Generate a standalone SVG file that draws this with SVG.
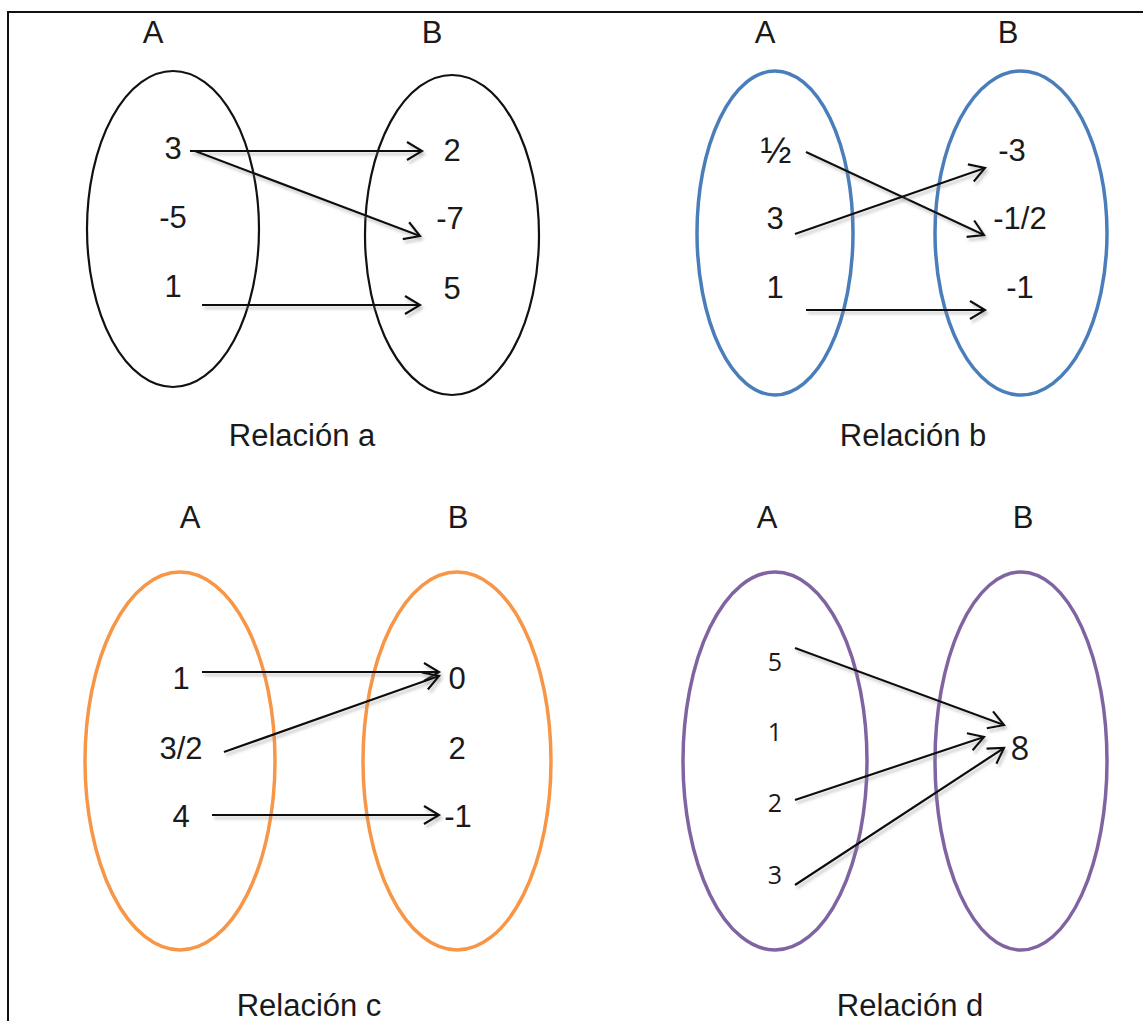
<svg xmlns="http://www.w3.org/2000/svg" width="1143" height="1021" viewBox="0 0 1143 1021">
<style>
text{font-family:"Liberation Sans",Arial,sans-serif;font-size:31px;fill:#1a1a1a;text-anchor:middle}
.cal{font-family:"Open Sans","Noto Sans",sans-serif;font-size:25px}
.set{fill:none}
.k{stroke:#111;stroke-width:2.2}
.bl{stroke:#4a7ebb;stroke-width:3.5}
.or{stroke:#f79646;stroke-width:3.5}
.pu{stroke:#8064a2;stroke-width:3.5}
.ar{stroke:#111;stroke-width:2.2;fill:none;marker-end:url(#ah);filter:url(#sh)}
</style>
<defs>
<marker id="ah" markerUnits="userSpaceOnUse" markerWidth="20" markerHeight="20" refX="17" refY="10" orient="auto" overflow="visible">
<path d="M2,1 L17,10 L2,19" fill="none" stroke="#111" stroke-width="2.2"/>
</marker>
<filter id="sh" filterUnits="userSpaceOnUse" x="0" y="0" width="1143" height="1021">
<feDropShadow dx="2" dy="3" stdDeviation="1.5" flood-color="#888" flood-opacity="0.5"/>
</filter>
</defs>
<rect x="8" y="12" width="1140" height="1020" fill="#fff" stroke="#111" stroke-width="2"/>

<g id="relacion-a">
<ellipse class="set k" cx="173" cy="229" rx="86" ry="158"/>
<ellipse class="set k" cx="452" cy="235" rx="87" ry="160"/>
<text x="153" y="43">A</text><text x="432" y="43">B</text>
<text x="173" y="159">3</text><text x="173" y="228">-5</text><text x="173" y="297">1</text>
<text x="452" y="161">2</text><text x="450" y="229">-7</text><text x="452" y="299">5</text>
<text x="302" y="446">Relación a</text>
</g>

<g id="relacion-b">
<ellipse class="set bl" cx="775" cy="233" rx="78" ry="162"/>
<ellipse class="set bl" cx="1021" cy="233" rx="86" ry="162"/>
<text x="765" y="43">A</text><text x="1008" y="43">B</text>
<text x="776" y="163" style="font-size:37px">½</text><text x="775" y="229">3</text><text x="775" y="298">1</text>
<text x="1012" y="161">-3</text><text x="1020" y="229">-1/2</text><text x="1020" y="298">-1</text>
<text x="913" y="446">Relación b</text>
</g>

<g id="relacion-c">
<ellipse class="set or" cx="180" cy="761" rx="95" ry="189"/>
<ellipse class="set or" cx="457" cy="761" rx="94" ry="189"/>
<text x="190" y="528">A</text><text x="458" y="528">B</text>
<text x="181" y="689">1</text><text x="181" y="759">3/2</text><text x="181" y="827">4</text>
<text x="457" y="689">0</text><text x="457" y="759">2</text><text x="458" y="827">-1</text>
<text x="309" y="1016">Relación c</text>
</g>

<g id="relacion-d">
<ellipse class="set pu" cx="775" cy="761" rx="92" ry="189"/>
<ellipse class="set pu" cx="1021" cy="761" rx="86" ry="189"/>
<text x="767" y="528">A</text><text x="1023" y="528">B</text>
<text class="cal" x="775" y="671">5</text><text class="cal" x="775" y="741">1</text>
<text class="cal" x="775" y="812">2</text><text class="cal" x="775" y="884">3</text>
<text class="cal" x="1020" y="760" style="font-size:33px">8</text>
<text x="910" y="1016">Relación d</text>
</g>

<g id="connectors">
<line class="ar" x1="190" y1="151" x2="422" y2="151"/>
<line class="ar" x1="195" y1="151" x2="420" y2="236"/>
<line class="ar" x1="202" y1="305" x2="420" y2="305"/>

<line class="ar" x1="806" y1="152" x2="984" y2="235"/>
<line class="ar" x1="795" y1="234" x2="985" y2="168"/>
<line class="ar" x1="806" y1="310" x2="985" y2="310"/>

<line class="ar" x1="202" y1="672" x2="439" y2="672"/>
<line class="ar" x1="224" y1="752" x2="439" y2="676"/>
<line class="ar" x1="212" y1="815" x2="439" y2="815"/>

<line class="ar" x1="795" y1="648" x2="1004" y2="725"/>
<line class="ar" x1="795" y1="800" x2="984" y2="737"/>
<line class="ar" x1="795" y1="885" x2="1004" y2="748"/>
</g>
</svg>
